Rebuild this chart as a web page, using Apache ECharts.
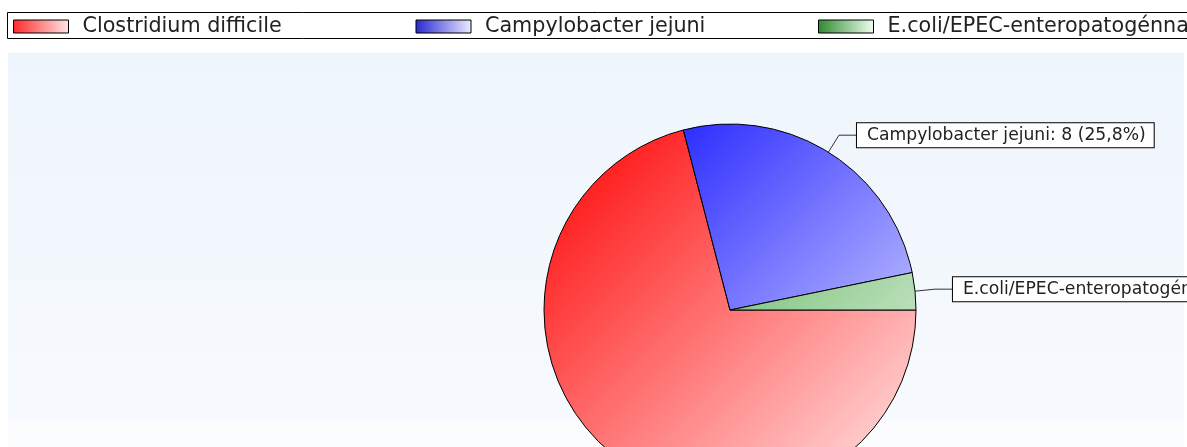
<!DOCTYPE html>
<html><head><meta charset="utf-8">
<script src="https://cdn.jsdelivr.net/npm/echarts@6/dist/echarts.min.js"></script>
<style>html,body{margin:0;padding:0;background:#fff}#c{width:1187px;height:447px}</style>
</head><body><div id="c"></div>
<script>
const categories = ['Clostridium difficile', 'Campylobacter jejuni', 'E.coli/EPEC-enteropatogénna'];
const values = [22, 8, 1];

const sliceStart = ['#ff0000', '#0000ff', '#1f961f'];
const sliceEnd = ['#ffeaea', '#f2f2ff', '#eff8ef'];
const legendStart = ['#ff2a2a', '#2828d0', '#2f8a2f'];
const legendEnd = ['#ffe6e6', '#ececff', '#f0fff0'];

const CX = 730, CY = 310, R = 186;

function globalGrad(i) {
  return { type: 'linear', x: CX - R, y: CY - R, x2: CX + R, y2: CY + R, global: true,
    colorStops: [{ offset: 0, color: sliceStart[i] }, { offset: 1, color: sliceEnd[i] }] };
}
function legendGrad(i) {
  return { type: 'linear', x: 0, y: 0, x2: 1, y2: 0,
    colorStops: [{ offset: 0, color: legendStart[i] }, { offset: 1, color: legendEnd[i] }] };
}

const data = categories.map((n, i) => {
  const d = { name: n, value: values[i], itemStyle: { color: globalGrad(i) } };
  if (i === 2) d.label = { width: 340, overflow: 'none' };
  return d;
});

const chart = echarts.init(document.getElementById('c'), null, { renderer: 'canvas' });
chart.setOption({
  animation: false,
  backgroundColor: '#ffffff',
  graphic: [
    { type: 'rect', z: -10, silent: true, shape: { x: 8, y: 53, width: 1176, height: 368 },
      style: { fill: { type: 'linear', x: 0, y: 0, x2: 0, y2: 1,
        colorStops: [{ offset: 0, color: '#eef5fc' }, { offset: 1, color: '#f7fafe' }] } } },
    { type: 'rect', z: -10, silent: true, shape: { x: 8, y: 421, width: 1176, height: 26 },
      style: { fill: '#fafcfe' } },
    { type: 'rect', z: -5, silent: true, shape: { x: 7.5, y: 12.5, width: 1400, height: 26 },
      style: { fill: '#ffffff', stroke: '#000000', lineWidth: 1 } }
  ],
  legend: {
    left: 7, top: 12, width: 2400, orient: 'horizontal',
    padding: [3, 6, 1, 6],
    itemGap: 0, itemWidth: 55, itemHeight: 13,
    backgroundColor: 'transparent', borderWidth: 0,
    icon: 'rect', selectedMode: false,
    itemStyle: { borderColor: '#000', borderWidth: 1 },
    textStyle: { fontFamily: 'DejaVu Sans', fontSize: 20.7, color: '#222', width: 333,
      overflow: 'none', padding: [0, 0, 0, 9], lineHeight: 23 },
    data: categories.map((n, i) => ({ name: n, itemStyle: { color: legendGrad(i) } }))
  },
  series: [{
    type: 'pie', center: [CX, CY], radius: R, startAngle: 0, clockwise: true,
    avoidLabelOverlap: false,
    itemStyle: { borderColor: '#000', borderWidth: 1 },
    label: {
      show: true, position: 'outside',
      formatter: p => p.name + ': ' + p.value + ' (' + p.percent.toFixed(1).replace('.', ',') + '%)',
      fontFamily: 'DejaVu Sans', fontSize: 17.2, color: '#222',
      backgroundColor: '#fff', borderColor: '#000', borderWidth: 1,
      padding: [3, 8, 3, 10], lineHeight: 18, distanceToLabelLine: 0
    },
    labelLine: { show: true, length: 20, length2: 18, smooth: false, lineStyle: { color: '#333', width: 1 } },
    emphasis: { disabled: true },
    data: data
  }]
});
</script></body></html>
